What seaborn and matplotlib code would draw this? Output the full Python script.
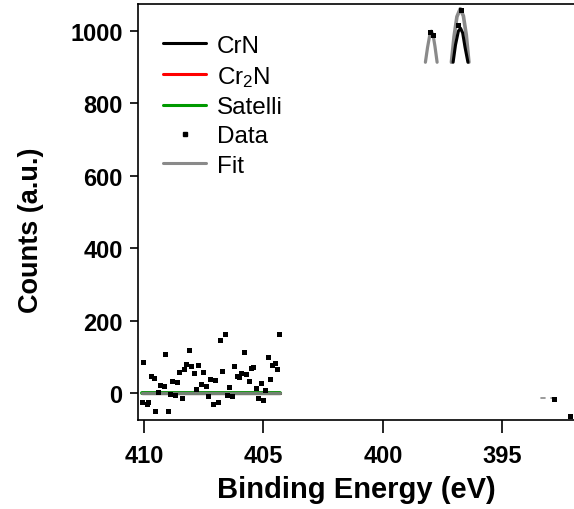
import matplotlib
matplotlib.use("Agg")
import matplotlib.pyplot as plt
import seaborn as sns
import pandas as pd
from matplotlib.lines import Line2D

# ---- data ----
data_x = [410.08, 410.00, 409.87, 409.79, 409.67, 409.58, 409.50, 409.30, 409.16, 409.08,
          408.99, 408.87, 408.80, 408.66, 408.58, 408.50, 408.37, 408.29, 408.20, 408.08,
          407.99, 407.87, 407.79, 407.70, 407.58, 407.49, 407.37, 407.28, 407.20, 407.07,
          406.99, 406.87, 406.78, 406.70, 406.57, 406.49, 406.41, 406.28, 406.20, 406.07,
          405.99, 405.90, 405.78, 405.70, 405.57, 405.49, 405.40, 405.28, 405.19, 405.07,
          404.99, 404.90, 404.78, 404.69, 404.61, 404.48, 404.40, 404.32, 409.40,
          397.99, 397.87, 396.84, 396.70, 392.83, 392.13]
data_y = [-27, 83, -32, -27, 45, 40, -52, 20, 17, 106,
          -52, -5, 31, -8, 29, 56, -16, 64, 78, 117,
          73, 53, 9, 75, 23, 56, 17, -10, 37, -32,
          34, -27, 146, 59, 161, -8, 15, -10, 73, 45,
          42, 53, 111, 51, 31, 67, 70, 12, -16, 26,
          -21, 6, 98, 37, 75, 81, 64, 161, 2,
          997, 989, 1016, 1058, -19, -64]

fit_base_x = [410.08, 404.30]
fit_base_y = [0, 0]
fit_p1_x = [398.22, 398.13, 398.04, 397.97, 397.90, 397.82, 397.73]
fit_p1_y = [914, 955, 988, 1000, 990, 958, 914]
fit_p2_x = [397.13, 397.02, 396.90, 396.76, 396.63, 396.51, 396.40]
fit_p2_y = [914, 985, 1040, 1062, 1042, 990, 914]
fit_s1_x = [393.38, 393.22]
fit_s2_x = [392.98, 392.88]
fit_s_y = [-14, -14]

crn_base_x = [410.08, 404.30]
crn_base_y = [0, 0]
crn_p_x = [397.06, 396.96, 396.84, 396.75, 396.66, 396.56, 396.44]
crn_p_y = [914, 962, 1000, 1008, 995, 955, 914]

cr2n_x = [410.08, 404.30]
cr2n_y = [0, 0]
sat_x = [410.08, 404.30]
sat_y = [0, 0]

legend_labels = ["CrN", "Cr$_2$N", "Satelli", "Data", "Fit"]

# ---- plotting ----
sns.set_style("ticks")
plt.rcParams['font.family'] = ['Liberation Sans', 'DejaVu Sans']
plt.rcParams['mathtext.fontset'] = 'custom'
plt.rcParams['mathtext.rm'] = 'Liberation Sans'
plt.rcParams['mathtext.it'] = 'Liberation Sans'
plt.rcParams['mathtext.default'] = 'regular'
for k in ['text.color', 'axes.labelcolor', 'xtick.color', 'ytick.color', 'axes.edgecolor']:
    plt.rcParams[k] = 'black'

fig = plt.figure(figsize=(5.74, 5.10), dpi=100)
ax = fig.add_axes([138/574, 1-421/510, 1-138/574, (421-5)/510])

def line(x, y, color, lw, alpha=1.0, z=2):
    sns.lineplot(x=x, y=y, ax=ax, color=color, lw=lw, sort=False,
                 estimator=None, alpha=alpha, zorder=z)

line(cr2n_x, cr2n_y, "#ff0000", 2.2, z=2)
line(crn_base_x, crn_base_y, "#000000", 2.2, z=2)
line(sat_x, sat_y, "#009900", 2.8, z=3)
line(fit_base_x, fit_base_y, "#808080", 2.4, alpha=0.9, z=4)
line(fit_p1_x, fit_p1_y, "#8a8a8a", 2.3, z=4)
line(fit_p2_x, fit_p2_y, "#8a8a8a", 2.6, z=4)
line(fit_s1_x, fit_s_y, "#8a8a8a", 1.2, z=4)
line(fit_s2_x, fit_s_y, "#8a8a8a", 1.2, z=4)
line(crn_p_x, crn_p_y, "#000000", 2.2, z=5)

sns.scatterplot(x=data_x, y=data_y, ax=ax, color="black", marker="s", s=13,
                edgecolor="none", linewidth=0, zorder=6)

ax.set_xlim(410.25, 392.0)
ax.set_ylim(-75, 1075)
ax.set_xticks([410, 405, 400, 395])
ax.set_yticks([0, 200, 400, 600, 800, 1000])
ax.spines['right'].set_visible(False)
for s in ['left', 'bottom', 'top']:
    ax.spines[s].set_linewidth(1.2)
ax.tick_params(axis='x', direction='out', length=9, width=1.2, pad=8, labelsize=17)
ax.tick_params(axis='y', direction='out', length=6, width=1.2, pad=5, labelsize=17)
for lab in ax.get_xticklabels() + ax.get_yticklabels():
    lab.set_fontweight('bold')
ax.set_xlabel("Binding Energy (eV)", fontsize=21, fontweight='bold', labelpad=6)
ax.set_ylabel("Counts (a.u.)", fontsize=19.5, fontweight='bold')
ax.yaxis.set_label_coords(-0.216, 0.459)

handles = [
    Line2D([], [], color="black", lw=2.2),
    Line2D([], [], color="#ff0000", lw=2.2),
    Line2D([], [], color="#009900", lw=2.2),
    Line2D([], [], color="black", lw=0, marker="s", markersize=3),
    Line2D([], [], color="#8a8a8a", lw=2.2),
]
ax.legend(handles, legend_labels, loc="upper left", frameon=False, fontsize=17.5,
          handlelength=1.75, handletextpad=0.45, labelspacing=0.3,
          borderaxespad=0, bbox_to_anchor=(0.036, 0.95))

fig.savefig("out.png", dpi=100)
